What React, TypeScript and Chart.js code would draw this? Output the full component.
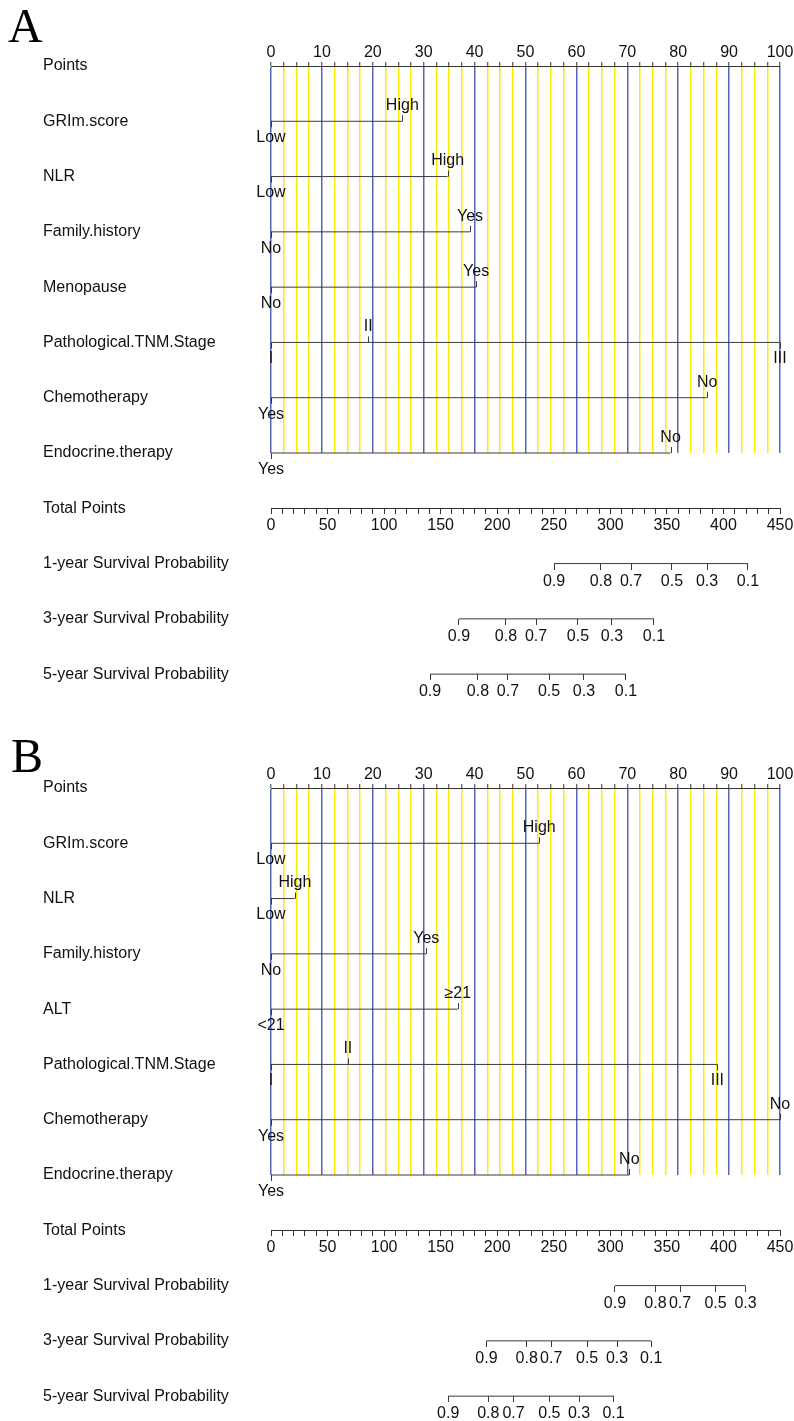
import React, { useEffect, useRef } from 'react';
import { Chart, registerables } from 'chart.js';

Chart.register(...registerables);

const FONT = '"Liberation Sans", Arial, Helvetica, sans-serif';
const SERIF = '"Liberation Serif", "Times New Roman", serif';
const TEXT = '#111111';
const AXIS = '#333333';
const LINE = '#3a3a3a';
const BLUE = '#5566b8';
const YELLOW = '#ffea00';

// ---- shared axes ----
const POINT_LABELS = [0, 10, 20, 30, 40, 50, 60, 70, 80, 90, 100];
const POINT_MINOR_STEP = 2.5;
const TOTAL_LABELS = [0, 50, 100, 150, 200, 250, 300, 350, 400, 450];
const TOTAL_MINOR_STEP = 10;
const SURV_ROW_NAMES = ['1-year Survival Probability', '3-year Survival Probability', '5-year Survival Probability'];

// ---- panel A ----
const VARS_A = ['GRIm.score', 'NLR', 'Family.history', 'Menopause', 'Pathological.TNM.Stage', 'Chemotherapy', 'Endocrine.therapy'];
const LEVELS_A = [['Low', 'High'], ['Low', 'High'], ['No', 'Yes'], ['No', 'Yes'], ['I', 'II', 'III'], ['Yes', 'No'], ['Yes', 'No']];
const SCORES_A = [[0, 25.8], [0, 34.7], [0, 39.1], [0, 40.3], [0, 19.1, 100], [0, 85.7], [0, 78.5]];
const SURV1_LABELS_A = ['0.9', '0.8', '0.7', '0.5', '0.3', '0.1'];
const SURV1_A = [250.2, 291.7, 318.3, 354.5, 385.5, 421.7];
const SURV3_LABELS_A = ['0.9', '0.8', '0.7', '0.5', '0.3', '0.1'];
const SURV3_A = [166.2, 207.7, 234.3, 271.4, 301.4, 338.6];
const SURV5_LABELS_A = ['0.9', '0.8', '0.7', '0.5', '0.3', '0.1'];
const SURV5_A = [140.6, 183.0, 209.5, 245.8, 276.7, 313.8];

// ---- panel B ----
const VARS_B = ['GRIm.score', 'NLR', 'Family.history', 'ALT', 'Pathological.TNM.Stage', 'Chemotherapy', 'Endocrine.therapy'];
const LEVELS_B = [['Low', 'High'], ['Low', 'High'], ['No', 'Yes'], ['<21', '≥21'], ['I', 'II', 'III'], ['Yes', 'No'], ['Yes', 'No']];
const SCORES_B = [[0, 52.7], [0, 4.7], [0, 30.5], [0, 36.7], [0, 15.1, 87.7], [0, 100], [0, 70.4]];
const SURV1_LABELS_B = ['0.9', '0.8', '0.7', '0.5', '0.3'];
const SURV1_B = [304.1, 339.9, 361.6, 393.0, 419.5];
const SURV3_LABELS_B = ['0.9', '0.8', '0.7', '0.5', '0.3', '0.1'];
const SURV3_B = [190.5, 226.1, 247.7, 279.5, 305.9, 336.1];
const SURV5_LABELS_B = ['0.9', '0.8', '0.7', '0.5', '0.3', '0.1'];
const SURV5_B = [156.7, 192.1, 214.4, 246.1, 272.3, 302.8];

const PANEL_A = {
  letter: 'A', letterX: 8, letterY: 42, height: 722,
  vars: VARS_A, levels: LEVELS_A, scores: SCORES_A,
  surv: [SURV1_A, SURV3_A, SURV5_A], survLabels: [SURV1_LABELS_A, SURV3_LABELS_A, SURV5_LABELS_A],
};
const PANEL_B = {
  letter: 'B', letterX: 11, letterY: 50, height: 699,
  vars: VARS_B, levels: LEVELS_B, scores: SCORES_B,
  surv: [SURV1_B, SURV3_B, SURV5_B], survLabels: [SURV1_LABELS_B, SURV3_LABELS_B, SURV5_LABELS_B],
};

function stepTicks(max: number, step: number) {
  const out: number[] = [];
  const n = Math.round(max / step);
  for (let i = 0; i <= n; i++) out.push(i * step);
  return out;
}

const nomoPlugin = {
  id: 'nomo',
  afterDatasetsDraw(chart: any, _args: any, opts: any) {
    const ctx = chart.ctx;
    const xs = chart.scales.x;
    const ys = chart.scales.y;
    ctx.save();
    ctx.font = `16px ${FONT}`;
    ctx.fillStyle = TEXT;
    ctx.strokeStyle = LINE;
    ctx.lineWidth = 1;
    ctx.textAlign = 'center';
    ctx.textBaseline = 'middle';
    opts.levels.forEach((lv: string[], i: number) => {
      const py = ys.getPixelForValue(i + 1);
      lv.forEach((lab: string, j: number) => {
        const px = xs.getPixelForValue(opts.scores[i][j]);
        const up = j % 2 === 1;
        const x = Math.round(px) + 0.5;
        ctx.beginPath();
        ctx.moveTo(x, py);
        ctx.lineTo(x, up ? py - 6 : py + 6);
        ctx.stroke();
        ctx.fillText(lab, px, up ? py - 15.5 : py + 16.5);
      });
    });
    ctx.font = `48px ${SERIF}`;
    ctx.textAlign = 'left';
    ctx.textBaseline = 'alphabetic';
    ctx.fillStyle = '#000';
    ctx.fillText(opts.letter, opts.letterX, opts.letterY);
    ctx.restore();
  },
};

function buildChart(canvas: HTMLCanvasElement, p: any) {
  const nVars = p.vars.length;
  const rowLabels = ['Points', ...p.vars, 'Total Points', ...SURV_ROW_NAMES];
  const pointTicks = stepTicks(100, POINT_MINOR_STEP);
  const totalTicks = stepTicks(450, TOTAL_MINOR_STEP);
  const font = { family: FONT, size: 16 };
  const noPad = (sc: any) => { sc.paddingLeft = 0; sc.paddingRight = 0; };

  const datasets: any[] = [];
  p.scores.forEach((s: number[], i: number) => {
    datasets.push({
      data: [{ x: Math.min(...s), y: i + 1 }, { x: Math.max(...s), y: i + 1 }],
      xAxisID: 'x', yAxisID: 'y', showLine: true, borderColor: LINE, borderWidth: 1,
      pointRadius: 0, clip: false,
    });
  });
  p.surv.forEach((s: number[], k: number) => {
    datasets.push({
      data: [{ x: s[0], y: nVars + 2 + k }, { x: s[s.length - 1], y: nVars + 2 + k }],
      xAxisID: 's' + k, yAxisID: 'y', showLine: true, borderColor: LINE, borderWidth: 1,
      pointRadius: 0, clip: false,
    });
  });

  const scales: any = {
    x: {
      type: 'linear', axis: 'x', position: 'top', min: 0, max: 100,
      afterBuildTicks: (sc: any) => { sc.ticks = pointTicks.map((v) => ({ value: v })); },
      afterFit: (sc: any) => { sc.height = 66; noPad(sc); },
      ticks: {
        autoSkip: false, maxRotation: 0, minRotation: 0, padding: 0, font, color: TEXT,
        callback: (v: number) => (POINT_LABELS.includes(v) ? String(v) : ''),
      },
      grid: {
        display: true, drawOnChartArea: true, drawTicks: true, tickLength: 4, tickColor: AXIS, tickWidth: 1,
        lineWidth: 1.5,
        color: (c: any) => (c.tick && POINT_LABELS.includes(c.tick.value) ? BLUE : YELLOW),
      },
      border: { display: true, color: AXIS, width: 1 },
    },
    y: {
      type: 'linear', axis: 'y', position: 'left', min: 0, max: nVars, reverse: true,
      afterBuildTicks: (sc: any) => { sc.ticks = rowLabels.map((_, i) => ({ value: i })); },
      afterFit: (sc: any) => { sc.width = 228; sc.paddingTop = 0; sc.paddingBottom = 0; },
      ticks: {
        autoSkip: false, crossAlign: 'far', padding: 0, font, color: TEXT,
        callback: (_v: number, i: number) => rowLabels[i],
      },
      grid: { display: false, drawTicks: false },
      border: { display: false },
    },
    xt: {
      type: 'linear', axis: 'x', position: { y: nVars + 1 }, min: 0, max: 450,
      afterBuildTicks: (sc: any) => { sc.ticks = totalTicks.map((v) => ({ value: v })); },
      afterFit: noPad,
      ticks: {
        autoSkip: false, maxRotation: 0, minRotation: 0, padding: 3, font, color: TEXT,
        callback: (v: number) => (TOTAL_LABELS.includes(v) ? String(v) : ''),
      },
      grid: { display: true, drawOnChartArea: false, drawTicks: true, tickLength: 5, tickColor: AXIS, color: AXIS },
      border: { display: true, color: AXIS, width: 1 },
    },
  };
  p.surv.forEach((s: number[], k: number) => {
    const labels = p.survLabels[k];
    scales['s' + k] = {
      type: 'linear', axis: 'x', position: { y: nVars + 2 + k }, min: 0, max: 450,
      afterBuildTicks: (sc: any) => { sc.ticks = s.map((v) => ({ value: v })); },
      afterFit: noPad,
      ticks: {
        autoSkip: false, maxRotation: 0, minRotation: 0, padding: 2, font, color: TEXT,
        callback: (_v: number, i: number) => labels[i],
      },
      grid: { display: true, drawOnChartArea: false, drawTicks: true, tickLength: 6, tickColor: LINE, color: LINE },
      border: { display: false },
    };
  });

  return new Chart(canvas, {
    type: 'scatter',
    data: { datasets },
    plugins: [nomoPlugin as any],
    options: {
      responsive: false,
      maintainAspectRatio: false,
      animation: false,
      devicePixelRatio: 1,
      events: [],
      layout: { padding: { left: 43, right: 14, top: 0, bottom: p.height - 453 } },
      scales,
      plugins: {
        legend: { display: false },
        tooltip: { enabled: false },
        nomo: { levels: p.levels, scores: p.scores, letter: p.letter, letterX: p.letterX, letterY: p.letterY },
      } as any,
    },
  } as any);
}

export default function App() {
  const refA = useRef<HTMLCanvasElement>(null);
  const refB = useRef<HTMLCanvasElement>(null);
  useEffect(() => {
    const a = buildChart(refA.current as HTMLCanvasElement, PANEL_A);
    const b = buildChart(refB.current as HTMLCanvasElement, PANEL_B);
    return () => { a.destroy(); b.destroy(); };
  }, []);
  return (
    <div style={{ position: 'absolute', left: 0, top: 0, width: 794, height: 1421, overflow: 'hidden', background: '#ffffff' }}>
      <canvas ref={refA} width={794} height={PANEL_A.height} style={{ display: 'block', width: 794, height: PANEL_A.height }} />
      <canvas ref={refB} width={794} height={PANEL_B.height} style={{ display: 'block', width: 794, height: PANEL_B.height }} />
    </div>
  );
}
